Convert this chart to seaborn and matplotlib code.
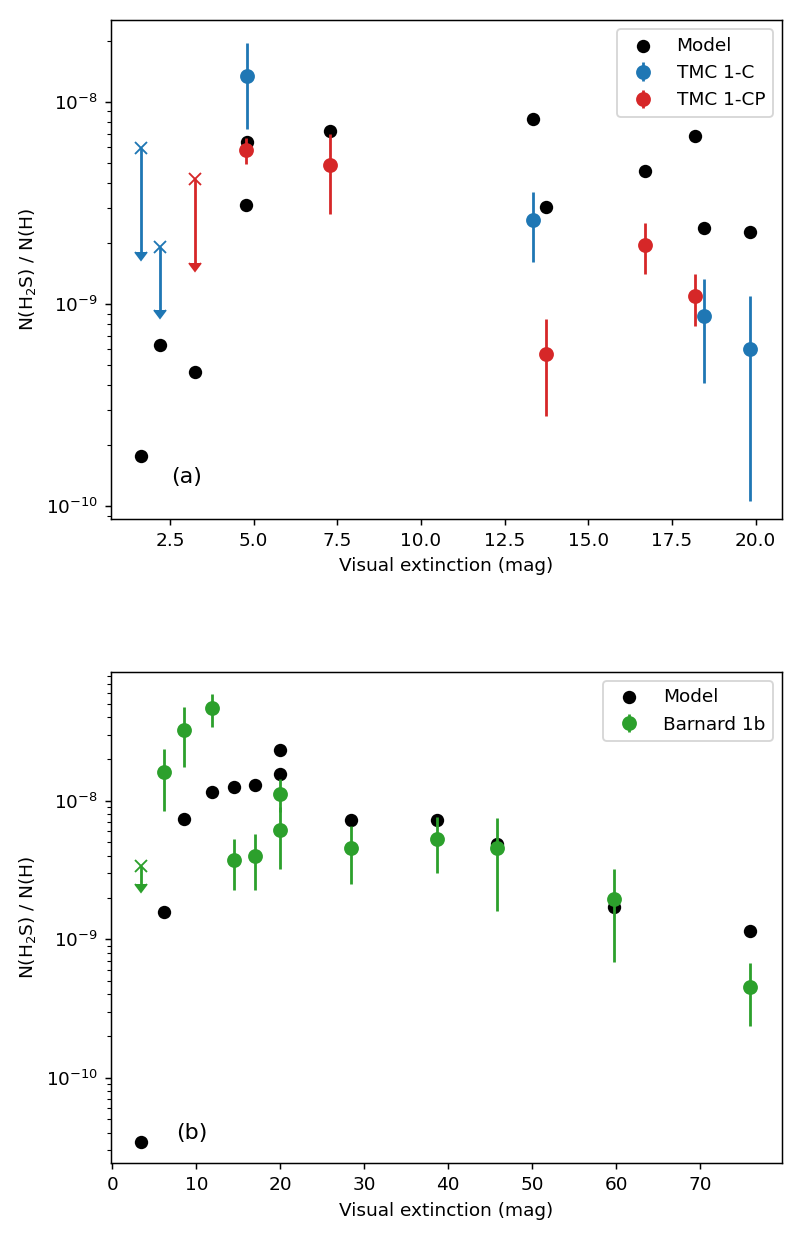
import numpy as np
import matplotlib
matplotlib.use("Agg")
import matplotlib.pyplot as plt
import seaborn as sns

# ---- panel (a): TMC 1 ----
model_a_av = [1.63, 2.20, 3.26, 4.79, 4.77, 7.27, 13.34, 13.73, 16.70, 18.19, 18.46, 19.84]
model_a = [1.77e-10, 6.27e-10, 4.62e-10, 6.34e-9, 3.11e-9, 7.21e-9,
           8.30e-9, 3.04e-9, 4.59e-9, 6.81e-9, 2.38e-9, 2.27e-9]

tmc1c_av = [4.79, 13.34, 18.46, 19.84]
tmc1c = [1.35e-8, 2.61e-9, 8.75e-10, 6.01e-10]
tmc1c_err = [6.1e-9, 9.9e-10, 4.65e-10, 4.95e-10]
tmc1c_lim_av = [1.63, 2.20]
tmc1c_lim = [5.96e-9, 1.91e-9]
tmc1c_lim_low = [1.82e-9, 9.4e-10]

tmc1cp_av = [4.77, 7.27, 13.73, 16.70, 18.19]
tmc1cp = [5.80e-9, 4.89e-9, 5.65e-10, 1.97e-9, 1.10e-9]
tmc1cp_err = [8.5e-10, 2.09e-9, 2.85e-10, 5.6e-10, 3.2e-10]
tmc1cp_lim_av = [3.26]
tmc1cp_lim = [4.17e-9]
tmc1cp_lim_low = [1.60e-9]

# ---- panel (b): Barnard 1b ----
model_b_av = [3.42, 6.15, 8.57, 11.87, 14.45, 17.02, 19.96, 19.96, 28.38, 38.70, 45.76, 59.76, 75.95]
model_b = [3.46e-11, 1.57e-9, 7.39e-9, 1.16e-8, 1.25e-8, 1.29e-8, 2.33e-8, 1.55e-8,
           7.30e-9, 7.23e-9, 4.85e-9, 1.71e-9, 1.15e-9]

b1b_av = [6.15, 8.57, 11.87, 14.45, 17.02, 19.96, 19.96, 28.38, 38.70, 45.76, 59.76, 75.95]
b1b = [1.61e-8, 3.26e-8, 4.66e-8, 3.76e-9, 3.99e-9, 1.125e-8, 6.12e-9,
       4.56e-9, 5.30e-9, 4.58e-9, 1.95e-9, 4.55e-10]
b1b_err = [7.6e-9, 1.52e-8, 1.23e-8, 1.50e-9, 1.73e-9, 3.0e-9, 2.9e-9,
           2.05e-9, 2.27e-9, 2.98e-9, 1.27e-9, 2.19e-10]
b1b_lim_av = [3.42]
b1b_lim = [3.40e-9]
b1b_lim_low = [2.50e-9]

BLUE, RED, GREEN = "#1f77b4", "#d62728", "#2ca02c"


def plot_panel(ax, model_av, model_val, observations):
    sns.scatterplot(x=model_av, y=model_val, color="black", s=52, linewidth=0,
                    label="Model", ax=ax)
    for name, color, av, val, err, lim_av, lim, lim_low in observations:
        ax.errorbar(av, val, yerr=err, fmt="o", color=color, ms=7, label=name)
        # upper limits: cross marker with a downward arrow
        ax.errorbar(lim_av, lim, yerr=np.subtract(lim, lim_low), uplims=True,
                    fmt="x", color=color, ms=6)
    ax.set_yscale("log")
    ax.set_xlabel("Visual extinction (mag)")
    ax.set_ylabel("N(H$_2$S) / N(H)")
    ax.legend(loc="upper right")


fig = plt.figure(figsize=(6, 9.36), dpi=133.334)
ax1 = fig.add_axes([0.1388, 0.5841, 0.8384, 0.3998])
ax2 = fig.add_axes([0.1388, 0.0679, 0.8384, 0.3939])

plot_panel(ax1, model_a_av, model_a, [
    ("TMC 1-C", BLUE, tmc1c_av, tmc1c, tmc1c_err, tmc1c_lim_av, tmc1c_lim, tmc1c_lim_low),
    ("TMC 1-CP", RED, tmc1cp_av, tmc1cp, tmc1cp_err, tmc1cp_lim_av, tmc1cp_lim, tmc1cp_lim_low),
])
ax1.set_xlim(0.74, 20.78)
ax1.set_ylim(8.65e-11, 2.55e-8)
ax1.text(2.55, 1.4e-10, "(a)", fontsize=12, va="center")

plot_panel(ax2, model_b_av, model_b, [
    ("Barnard 1b", GREEN, b1b_av, b1b, b1b_err, b1b_lim_av, b1b_lim, b1b_lim_low),
])
ax2.set_xlim(-0.15, 79.7)
ax2.set_ylim(2.41e-11, 8.55e-8)
ax2.text(7.6, 4.0e-11, "(b)", fontsize=12, va="center")

fig.savefig("out.png", dpi=133.334)
